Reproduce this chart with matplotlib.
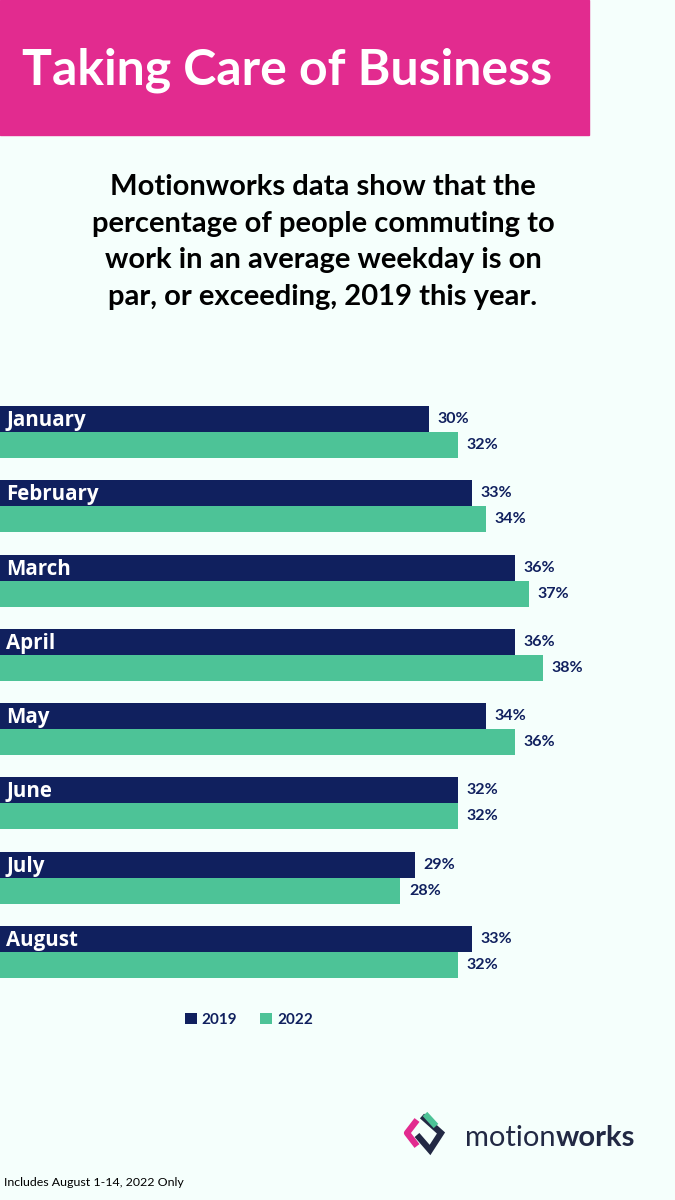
import matplotlib
matplotlib.use("Agg")
import matplotlib.pyplot as plt
from matplotlib.patches import Rectangle

months = ["January", "February", "March", "April", "May", "June", "July", "August"]
vals_2019 = [30, 33, 36, 36, 34, 32, 29, 33]
vals_2022 = [32, 34, 37, 38, 36, 32, 28, 32]
series_labels = ["2019", "2022"]

NAVY = "#10205E"
GREEN = "#4DC397"
PINK = "#E22B8F"
BG = "#F5FFFC"
LOGO = "#222944"

fig = plt.figure(figsize=(6.75, 12), dpi=100, facecolor=BG)

# Title banner
fig.patches.append(Rectangle((0, 1 - 135 / 1200), 589 / 675, 135 / 1200,
                             transform=fig.transFigure, color=PINK, zorder=0))
fig.text(22 / 675, 1 - 70 / 1200, "Taking Care of Business", color="white",
         fontsize=36, fontweight="bold", family="Lato", va="center", ha="left")

subtitle = ("Motionworks data show that the\n"
            "percentage of people commuting to\n"
            "work in an average weekday is on\n"
            "par, or exceeding, 2019 this year.")
fig.text(323 / 675, 1 - 242 / 1200, subtitle, color="black", fontsize=21,
         fontweight="bold", family="Lato", ha="center", va="center",
         linespacing=1.52)

# Bars
ax = fig.add_axes([0, 1 - 1000 / 1200, 1, 620 / 1200])
ax.patch.set_alpha(0)
h = 0.35
ypos = list(range(len(months)))
y19 = [y - h / 2 for y in ypos]
y22 = [y + h / 2 for y in ypos]
ax.barh(y19, vals_2019, height=h, color=NAVY, label=series_labels[0])
ax.barh(y22, vals_2022, height=h, color=GREEN, label=series_labels[1])
ax.set_xlim(0, 675 / 14.3)
ax.set_ylim(7.645, -0.7)
ax.axis("off")

for y, m in zip(y19, months):
    ax.text(0.42, y + 0.02, m, color="white", fontsize=14.8, fontweight="bold",
            family="Open Sans", va="center", ha="left")
for y, v in zip(y19, vals_2019):
    ax.text(v + 0.6, y, f"{v}%", color=NAVY, fontsize=11.5, fontweight="bold",
            family="Lato", va="center", ha="left")
for y, v in zip(y22, vals_2022):
    ax.text(v + 0.6, y, f"{v}%", color=NAVY, fontsize=11.5, fontweight="bold",
            family="Lato", va="center", ha="left")

leg = fig.legend(loc="center", bbox_to_anchor=(249 / 675, 1 - 1020 / 1200),
                 ncol=2, frameon=False, handlelength=0.75, handleheight=0.75,
                 handletextpad=0.35, columnspacing=1.5,
                 prop={"family": "Lato", "weight": "bold", "size": 11})
for t in leg.get_texts():
    t.set_color(NAVY)

# Logo
lax = fig.add_axes([395 / 675, 1 - 1165 / 1200, 60 / 675, 60 / 1200])
lax.set_xlim(0, 60)
lax.set_ylim(60, 0)
lax.axis("off")
lax.plot([22, 12, 22], [15, 28, 41], color=PINK, lw=4.5, solid_capstyle="butt")
lax.plot([27, 46, 35, 22], [11, 28, 45, 30], color=LOGO, lw=4.5,
         solid_capstyle="butt", solid_joinstyle="miter")
lax.plot([30, 41], [9, 21], color=GREEN, lw=4.5, solid_capstyle="butt")

t1 = fig.text(465 / 675, 1 - 1138 / 1200, "motion", color=LOGO, fontsize=21,
              family="Lato", va="center", ha="left")
fig.canvas.draw()
bb = t1.get_window_extent()
fig.text(bb.x1 / fig.bbox.width, 1 - 1138 / 1200, "works", color=LOGO,
         fontsize=21, family="Lato", fontweight="bold", va="center", ha="left")

fig.text(4 / 675, 1 - 1183 / 1200, "Includes August 1-14, 2022 Only",
         color="black", fontsize=8.9, family="Lato", va="center", ha="left")

fig.savefig("out.png", dpi=100, facecolor=BG)
